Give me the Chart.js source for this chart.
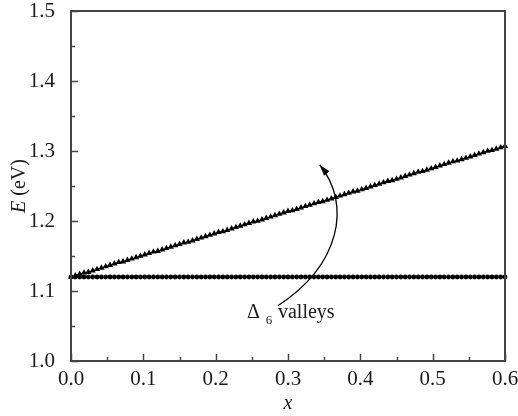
<!DOCTYPE html>
<html>
<head>
<meta charset="utf-8">
<script src="https://cdn.jsdelivr.net/npm/chart.js@4"></script>
<style>
  html, body { margin: 0; padding: 0; background: #fff; }
  #wrap { width: 518px; height: 416px; }
</style>
</head>
<body>
<div id="wrap"><canvas id="chart" width="518" height="416"></canvas></div>
<script>
// ===== DATA =====
const xValues = [
  0.000, 0.006, 0.012, 0.018, 0.024, 0.030, 0.036, 0.042, 0.048, 0.054,
  0.060, 0.066, 0.072, 0.078, 0.084, 0.090, 0.096, 0.102, 0.108, 0.114,
  0.120, 0.126, 0.132, 0.138, 0.144, 0.150, 0.156, 0.162, 0.168, 0.174,
  0.180, 0.186, 0.192, 0.198, 0.204, 0.210, 0.216, 0.222, 0.228, 0.234,
  0.240, 0.246, 0.252, 0.258, 0.264, 0.270, 0.276, 0.282, 0.288, 0.294,
  0.300, 0.306, 0.312, 0.318, 0.324, 0.330, 0.336, 0.342, 0.348, 0.354,
  0.360, 0.366, 0.372, 0.378, 0.384, 0.390, 0.396, 0.402, 0.408, 0.414,
  0.420, 0.426, 0.432, 0.438, 0.444, 0.450, 0.456, 0.462, 0.468, 0.474,
  0.480, 0.486, 0.492, 0.498, 0.504, 0.510, 0.516, 0.522, 0.528, 0.534,
  0.540, 0.546, 0.552, 0.558, 0.564, 0.570, 0.576, 0.582, 0.588, 0.594,
  0.600
];

// triangles (rising branch)
const upperE = [
  1.120, 1.122, 1.124, 1.126, 1.127, 1.129, 1.131, 1.133, 1.135, 1.137,
  1.139, 1.141, 1.142, 1.144, 1.146, 1.148, 1.150, 1.152, 1.154, 1.156,
  1.157, 1.159, 1.161, 1.163, 1.165, 1.167, 1.169, 1.170, 1.172, 1.174,
  1.176, 1.178, 1.180, 1.182, 1.184, 1.185, 1.187, 1.189, 1.191, 1.193,
  1.195, 1.197, 1.199, 1.200, 1.202, 1.204, 1.206, 1.208, 1.210, 1.212,
  1.214, 1.215, 1.217, 1.219, 1.221, 1.223, 1.225, 1.227, 1.228, 1.230,
  1.232, 1.234, 1.236, 1.238, 1.240, 1.242, 1.243, 1.245, 1.247, 1.249,
  1.251, 1.253, 1.255, 1.257, 1.258, 1.260, 1.262, 1.264, 1.266, 1.268,
  1.270, 1.271, 1.273, 1.275, 1.277, 1.279, 1.281, 1.283, 1.285, 1.286,
  1.288, 1.290, 1.292, 1.294, 1.296, 1.298, 1.300, 1.301, 1.303, 1.305,
  1.307
];

// circles (flat branch)
const lowerE = [
  1.120, 1.120, 1.120, 1.120, 1.120, 1.120, 1.120, 1.120, 1.120, 1.120,
  1.120, 1.120, 1.120, 1.120, 1.120, 1.120, 1.120, 1.120, 1.120, 1.120,
  1.120, 1.120, 1.120, 1.120, 1.120, 1.120, 1.120, 1.120, 1.120, 1.120,
  1.120, 1.120, 1.120, 1.120, 1.120, 1.120, 1.120, 1.120, 1.120, 1.120,
  1.120, 1.120, 1.120, 1.120, 1.120, 1.120, 1.120, 1.120, 1.120, 1.120,
  1.120, 1.120, 1.120, 1.120, 1.120, 1.120, 1.120, 1.120, 1.120, 1.120,
  1.120, 1.120, 1.120, 1.120, 1.120, 1.120, 1.120, 1.120, 1.120, 1.120,
  1.120, 1.120, 1.120, 1.120, 1.120, 1.120, 1.120, 1.120, 1.120, 1.120,
  1.120, 1.120, 1.120, 1.120, 1.120, 1.120, 1.120, 1.120, 1.120, 1.120,
  1.120, 1.120, 1.120, 1.120, 1.120, 1.120, 1.120, 1.120, 1.120, 1.120,
  1.120
];

const xTicks = [0.0, 0.1, 0.2, 0.3, 0.4, 0.5, 0.6];
const yTicks = [1.0, 1.1, 1.2, 1.3, 1.4, 1.5];

// annotation curve (data coords): tail, two controls, tip
const arrowPath = [
  [0.286, 1.079],
  [0.372, 1.137],
  [0.3885, 1.223],
  [0.344, 1.280]
];
const labelAnchor = [0.2433, 1.0614];

const SERIF = '"Liberation Serif", "DejaVu Serif", serif';
const INK = "#1a1a1a";
const FRAME = "#444";

const toPoints = ys => xValues.map((x, i) => ({ x: x, y: ys[i] }));

// ===== CUSTOM DRAWING =====
const decor = {
  id: "decor",
  afterDatasetsDraw(chart) {
    const { ctx, chartArea: a, scales } = chart;
    const sx = scales.x, sy = scales.y;
    ctx.save();

    // frame
    ctx.strokeStyle = FRAME;
    ctx.lineWidth = 2;
    ctx.strokeRect(a.left, a.top, a.right - a.left, a.bottom - a.top);

    // inward ticks on bottom and left
    ctx.lineWidth = 1.5;
    ctx.beginPath();
    for (let i = 0; i <= 12; i++) {
      const v = i * 0.05;
      const px = Math.round(sx.getPixelForValue(v)) + 0.5;
      const len = i % 2 === 0 ? 7 : 4;
      ctx.moveTo(px, a.bottom);
      ctx.lineTo(px, a.bottom - len);
    }
    for (let i = 0; i <= 10; i++) {
      const v = 1.0 + i * 0.05;
      const py = Math.round(sy.getPixelForValue(v)) + 0.5;
      const len = i % 2 === 0 ? 7 : 4;
      ctx.moveTo(a.left, py);
      ctx.lineTo(a.left + len, py);
    }
    ctx.stroke();

    // axis titles
    ctx.fillStyle = INK;
    ctx.textBaseline = "middle";
    ctx.font = "italic 20px " + SERIF;
    ctx.textAlign = "center";
    ctx.fillText("x", (a.left + a.right) / 2, 404);

    ctx.save();
    ctx.translate(20, (a.top + a.bottom) / 2);
    ctx.rotate(-Math.PI / 2);
    ctx.textAlign = "left";
    ctx.font = "italic 20px " + SERIF;
    const w1 = ctx.measureText("E").width;
    ctx.font = "20px " + SERIF;
    const w2 = ctx.measureText(" (eV)").width;
    const start = -(w1 + w2) / 2;
    ctx.font = "italic 20px " + SERIF;
    ctx.fillText("E", start, 0);
    ctx.font = "20px " + SERIF;
    ctx.fillText(" (eV)", start + w1, 0);
    ctx.restore();

    // curved arrow
    const p = arrowPath.map(q => [sx.getPixelForValue(q[0]), sy.getPixelForValue(q[1])]);
    ctx.strokeStyle = "#000";
    ctx.lineWidth = 1.3;
    ctx.beginPath();
    ctx.moveTo(p[0][0], p[0][1]);
    ctx.bezierCurveTo(p[1][0], p[1][1], p[2][0], p[2][1], p[3][0], p[3][1]);
    ctx.stroke();
    const ang = Math.atan2(p[3][1] - p[2][1], p[3][0] - p[2][0]);
    const hl = 11, hw = 3.5;
    ctx.fillStyle = "#000";
    ctx.beginPath();
    ctx.moveTo(p[3][0], p[3][1]);
    ctx.lineTo(p[3][0] - hl * Math.cos(ang) + hw * Math.sin(ang), p[3][1] - hl * Math.sin(ang) - hw * Math.cos(ang));
    ctx.lineTo(p[3][0] - hl * Math.cos(ang) - hw * Math.sin(ang), p[3][1] - hl * Math.sin(ang) + hw * Math.cos(ang));
    ctx.closePath();
    ctx.fill();

    // label "Δ6 valleys"
    const lx = sx.getPixelForValue(labelAnchor[0]);
    const ly = sy.getPixelForValue(labelAnchor[1]);
    ctx.fillStyle = INK;
    ctx.textAlign = "left";
    ctx.textBaseline = "alphabetic";
    ctx.font = "20px " + SERIF;
    ctx.fillText("Δ", lx, ly);
    const dw = ctx.measureText("Δ").width;
    ctx.font = "13px " + SERIF;
    ctx.fillText("6", lx + dw + 6, ly + 6);
    ctx.font = "20px " + SERIF;
    ctx.fillText("valleys", lx + 31, ly);

    ctx.restore();
  }
};

// ===== CHART =====
new Chart(document.getElementById("chart"), {
  type: "scatter",
  data: {
    datasets: [
      {
        label: "upper",
        data: toPoints(upperE),
        showLine: true,
        borderColor: "#000",
        borderWidth: 1,
        backgroundColor: "#000",
        pointStyle: "triangle",
        pointRadius: 3.6,
        pointBorderWidth: 0,
        clip: 6
      },
      {
        label: "lower",
        data: toPoints(lowerE),
        showLine: true,
        borderColor: "#000",
        borderWidth: 1,
        backgroundColor: "#000",
        pointStyle: "circle",
        pointRadius: 2.4,
        pointBorderWidth: 0,
        clip: 6
      }
    ]
  },
  options: {
    responsive: false,
    animation: false,
    events: [],
    layout: { padding: { top: 11, right: 13, left: 0, bottom: 0 } },
    plugins: {
      legend: { display: false },
      tooltip: { enabled: false }
    },
    scales: {
      x: {
        type: "linear",
        min: 0,
        max: 0.6,
        afterFit: s => { s.height = 55; s.paddingLeft = 0; s.paddingRight = 0; },
        afterBuildTicks: s => { s.ticks = xTicks.map(v => ({ value: v })); },
        grid: { display: false },
        border: { display: false },
        ticks: {
          padding: -2,
          color: INK,
          font: { family: SERIF, size: 21 },
          maxRotation: 0,
          callback: v => Number(v).toFixed(1)
        }
      },
      y: {
        type: "linear",
        min: 1.0,
        max: 1.5,
        afterFit: s => { s.width = 71; s.paddingTop = 0; s.paddingBottom = 0; },
        afterBuildTicks: s => { s.ticks = yTicks.map(v => ({ value: v })); },
        grid: { display: false },
        border: { display: false },
        ticks: {
          padding: 8,
          color: INK,
          font: { family: SERIF, size: 21 },
          callback: v => Number(v).toFixed(1)
        }
      }
    }
  },
  plugins: [decor]
});
</script>
</body>
</html>
